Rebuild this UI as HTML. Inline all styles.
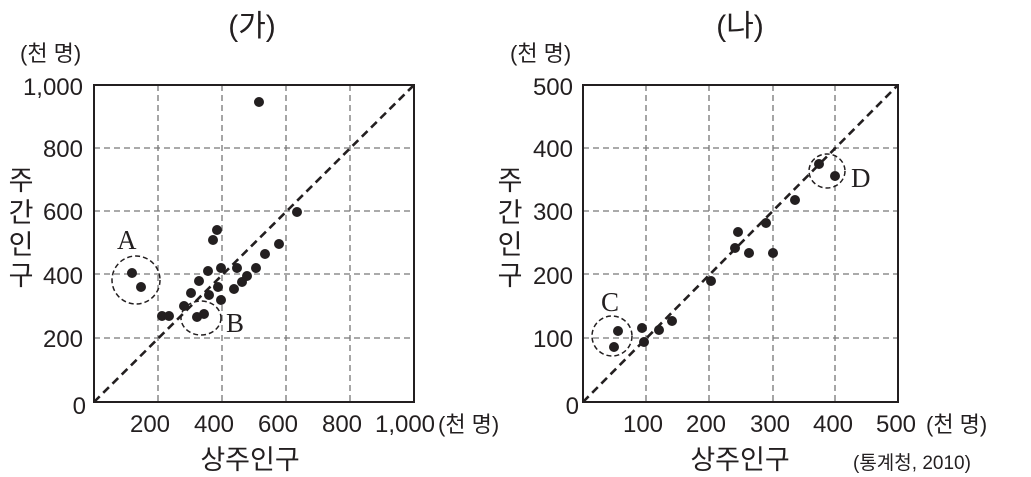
<!DOCTYPE html>
<html><head><meta charset="utf-8"><style>
body{margin:0;background:#fff}
svg{display:block}
text{font-family:"Liberation Sans","Noto Sans CJK KR",sans-serif;fill:#231f20}
.s{font-family:"Liberation Serif","Noto Serif CJK SC",serif}
</style></head><body>
<svg width="1031" height="477" viewBox="0 0 1031 477">
<g stroke="#777" stroke-width="1.3" stroke-dasharray="6,4" fill="none">
<path d="M158 85V402M222 85V402M286 85V402M350 85V402M94 148H414M94 211H414M94 274H414M94 338H414"/>
<path d="M646 85V402M709 85V402M773 85V402M835 85V402M583 148H898M583 211H898M583 274H898M583 338H898"/>
</g>
<rect x="94" y="85" width="320" height="317" fill="none" stroke="#231f20" stroke-width="2"/>
<rect x="583" y="85" width="315" height="317" fill="none" stroke="#231f20" stroke-width="2"/>
<g stroke="#231f20" stroke-width="2.6" stroke-dasharray="8,5" fill="none">
<path d="M94 402L414 85"/><path d="M583 402L898 85"/>
</g>
<g stroke="#231f20" stroke-width="1.5" stroke-dasharray="5,3" fill="none">
<circle cx="136" cy="280" r="24"/><ellipse cx="201" cy="318" rx="20" ry="17"/>
<circle cx="612" cy="336" r="20"/><ellipse cx="827" cy="171" rx="18" ry="17"/>
</g>
<g fill="#231f20">
<circle cx="132" cy="273" r="5"/><circle cx="141" cy="287" r="5"/><circle cx="162" cy="316" r="5"/><circle cx="169" cy="316" r="5"/><circle cx="184" cy="306" r="5"/><circle cx="191" cy="293" r="5"/><circle cx="199" cy="281" r="5"/><circle cx="197" cy="317" r="5"/><circle cx="204" cy="314" r="5"/><circle cx="208" cy="271" r="5"/><circle cx="209" cy="295" r="5"/><circle cx="213" cy="240" r="5"/><circle cx="217" cy="230" r="5"/><circle cx="218" cy="287" r="5"/><circle cx="221" cy="300" r="5"/><circle cx="221" cy="268" r="5"/><circle cx="234" cy="289" r="5"/><circle cx="237" cy="268" r="5"/><circle cx="242" cy="282" r="5"/><circle cx="247" cy="276" r="5"/><circle cx="256" cy="268" r="5"/><circle cx="265" cy="254" r="5"/><circle cx="279" cy="244" r="5"/><circle cx="297" cy="212" r="5"/><circle cx="259" cy="102" r="5"/>
<circle cx="618" cy="331" r="5"/><circle cx="614" cy="347" r="5"/><circle cx="642" cy="328" r="5"/><circle cx="644" cy="342" r="5"/><circle cx="659" cy="330" r="5"/><circle cx="672" cy="321" r="5"/><circle cx="711" cy="281" r="5"/><circle cx="735" cy="248" r="5"/><circle cx="738" cy="232" r="5"/><circle cx="749" cy="253" r="5"/><circle cx="766" cy="223" r="5"/><circle cx="773" cy="253" r="5"/><circle cx="795" cy="200" r="5"/><circle cx="819" cy="164" r="5"/><circle cx="835" cy="176" r="5"/>
</g>
<g class="s" font-size="27">
<text class="s" x="117" y="249">A</text><text class="s" x="226" y="332">B</text>
<text class="s" x="601" y="311">C</text><text class="s" x="851" y="187">D</text>
</g>
<g font-size="30" text-anchor="middle"><text x="252" y="36">(가)</text><text x="740" y="36">(나)</text></g>
<g font-size="22"><text x="20" y="61">(천 명)</text><text x="510" y="61">(천 명)</text>
<text x="438" y="432">(천 명)</text><text x="926" y="432">(천 명)</text></g>
<g font-size="24" text-anchor="end">
<text x="83" y="95">1,000</text><text x="83" y="157">800</text><text x="83" y="220">600</text><text x="83" y="284">400</text><text x="83" y="347">200</text><text x="86" y="414">0</text>
<text x="573" y="95">500</text><text x="573" y="157">400</text><text x="573" y="220">300</text><text x="573" y="284">200</text><text x="573" y="347">100</text><text x="579" y="414">0</text>
</g>
<g font-size="24" text-anchor="middle">
<text x="150" y="432">200</text><text x="214" y="432">400</text><text x="278" y="432">600</text><text x="342" y="432">800</text><text x="405" y="432">1,000</text>
<text x="643" y="432">100</text><text x="706" y="432">200</text><text x="770" y="432">300</text><text x="833" y="432">400</text><text x="896" y="432">500</text>
</g>
<g font-size="27" text-anchor="middle">
<text x="250" y="469">상주인구</text><text x="740" y="469">상주인구</text>
<text x="21" y="190">주</text><text x="21" y="222">간</text><text x="21" y="254">인</text><text x="21" y="285">구</text>
<text x="510" y="190">주</text><text x="510" y="222">간</text><text x="510" y="254">인</text><text x="510" y="285">구</text>
</g>
<text x="853" y="469" font-size="19">(통계청, 2010)</text>
</svg>
</body></html>
